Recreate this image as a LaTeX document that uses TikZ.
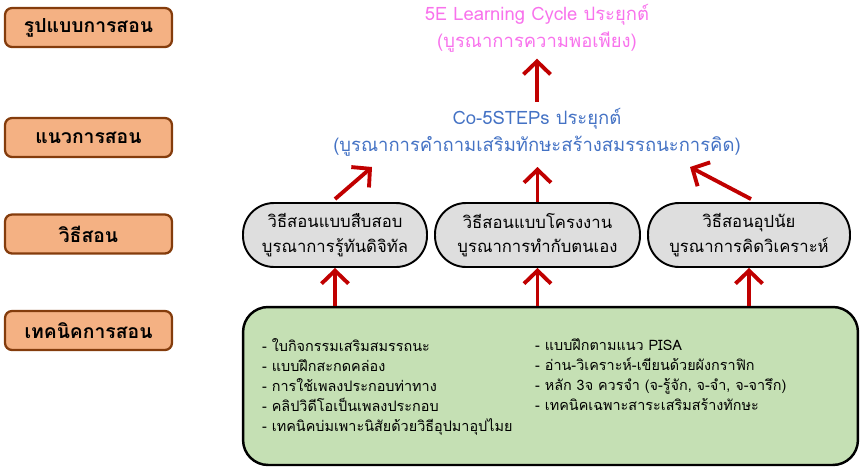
\documentclass[tikz,border=0pt]{standalone}
\usepackage{fontspec}
\setmainfont[Script=Thai]{Loma}
\usepackage{xcolor}
\usetikzlibrary{arrows.meta}
\definecolor{peach}{HTML}{F4B183}
\definecolor{brownline}{HTML}{843C0C}
\definecolor{pinktext}{HTML}{F872EC}
\definecolor{bluetext}{HTML}{4472C4}
\definecolor{arrowred}{HTML}{C00000}
\definecolor{pillgray}{HTML}{DEDEDE}
\definecolor{techgreen}{HTML}{C5E0B4}
\tikzset{
  levelbox/.style={draw=brownline, line width=1.3pt, fill=peach, rounded corners=4pt,
    minimum width=3.34cm, minimum height=0.78cm, font=\fontsize{11}{13}\selectfont\bfseries},
  pill/.style={draw=black, line width=1.1pt, fill=pillgray, rounded corners=0.62cm,
    minimum height=1.28cm, align=center, font=\fontsize{9.5}{14}\selectfont},
  uparrow/.style={draw=arrowred, line width=2.2pt, -{Straight Barb[length=2.6mm,width=5.4mm]}},
}
\begin{document}
\begin{tikzpicture}[x=0.02cm,y=-0.02cm]
\useasboundingbox (0,0) rectangle (860,467);
  % left column
  \node[levelbox] (lvl1) at (88.5,27.5) {รูปแบบการสอน};
  \node[levelbox] (lvl2) at (88.5,137.5) {แนวการสอน};
  \node[levelbox] (lvl3) at (88.5,234) {วิธีสอน};
  \node[levelbox] (lvl4) at (88.5,330.5) {เทคนิคการสอน};
  % model and approach
  \node[text=pinktext, align=center, font=\fontsize{10.5}{15.5}\selectfont] (model) at (537,28) {5E Learning Cycle ประยุกต์\\(บูรณาการความพอเพียง)};
  \node[text=bluetext, align=center, font=\fontsize{10.5}{15.5}\selectfont] (approach) at (537,132) {Co-5STEPs ประยุกต์\\(บูรณาการคำถามเสริมทักษะสร้างสมรรถนะการคิด)};
  % methods
  \node[pill, minimum width=3.68cm] (inq) at (335,235) {วิธีสอนแบบสืบสอบ\\บูรณาการรู้ทันดิจิทัล};
  \node[pill, minimum width=4.1cm] (proj) at (537.5,235) {วิธีสอนแบบโครงงาน\\บูรณาการทำกับตนเอง};
  \node[pill, minimum width=4.04cm] (ind) at (749,235) {วิธีสอนอุปนัย\\บูรณาการคิดวิเคราะห์};
  % techniques
  \node[draw=black, line width=1.4pt, fill=techgreen, rounded corners=0.5cm,
    minimum width=12.3cm, minimum height=3.16cm] (tech) at (550.5,386) {};
  \node[anchor=north west, align=left, font=\fontsize{8.2}{11.4}\selectfont] (techA) at (256,332)
    {- ใบกิจกรรมเสริมสมรรถนะ\\- แบบฝึกสะกดคล่อง\\- การใช้เพลงประกอบท่าทาง\\- คลิปวิดีโอเป็นเพลงประกอบ\\- เทคนิคบ่มเพาะนิสัยด้วยวิธีอุปมาอุปไมย};
  \node[anchor=north west, align=left, font=\fontsize{8.2}{11.4}\selectfont] (techB) at (529,332)
    {- แบบฝึกตามแนว PISA\\- อ่าน-วิเคราะห์-เขียนด้วยผังกราฟิก\\- หลัก 3จ ควรจำ (จ-รู้จัก, จ-จำ, จ-จารึก)\\- เทคนิคเฉพาะสาระเสริมสร้างทักษะ};
  % arrows
  \coordinate (inqTip) at (372,167);
  \coordinate (indTip) at (690,167);
  \draw[uparrow] (approach.north) -- ++(0,-43);
  \draw[uparrow] (inq.north) ++(0,-3) -- (inqTip);
  \draw[uparrow] (proj.north) -- (proj.north |- inqTip);
  \draw[uparrow] (ind.north) ++(2,-3) -- (indTip);
  \draw[uparrow] (tech.north -| inq) -- (inq.south);
  \draw[uparrow] (tech.north -| proj) -- (proj.south);
  \draw[uparrow] (tech.north -| ind) -- (ind.south);
\end{tikzpicture}
\end{document}
